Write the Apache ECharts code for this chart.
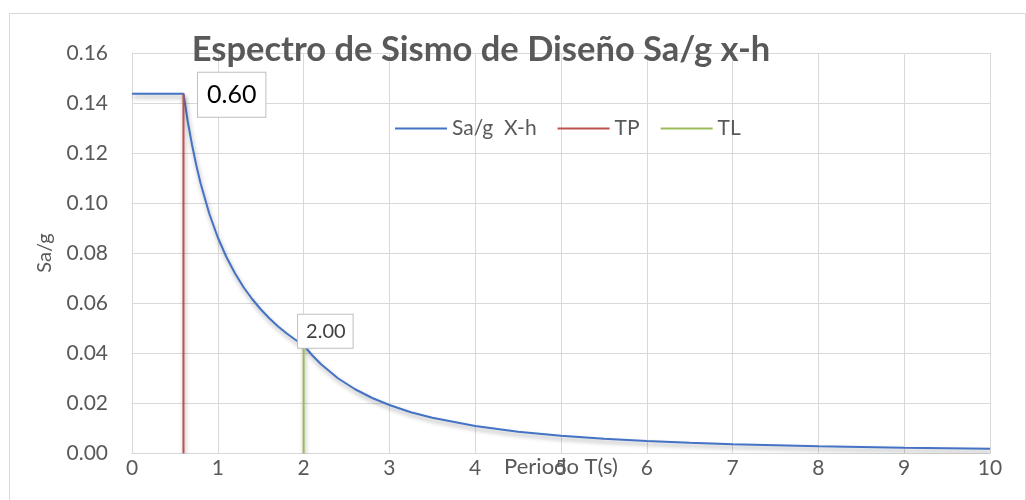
<!DOCTYPE html>
<html>
<head>
<meta charset="utf-8">
<script src="https://cdn.jsdelivr.net/npm/echarts@6/dist/echarts.min.js"></script>
<style>
  html, body { margin: 0; padding: 0; background: #fff; }
  #chart { width: 1026px; height: 500px; }
</style>
</head>
<body>
<div id="chart"></div>
<script>
// Design spectrum Sa/g vs period T (s), direction x-h
const periods = [0, 0.6, 0.65, 0.7, 0.75, 0.8, 0.9, 1.0, 1.1, 1.2, 1.3, 1.4, 1.5, 1.6, 1.7, 1.8, 1.9, 2.0,
                 2.1, 2.2, 2.4, 2.6, 2.8, 3.0, 3.25, 3.5, 4.0, 4.5, 5.0, 5.5, 6.0, 6.5, 7.0, 7.5, 8.0, 8.5, 9.0, 9.5, 10.0];
const saValues = [0.1437, 0.1437, 0.1326, 0.1232, 0.1150, 0.1078, 0.0958, 0.0862, 0.0784, 0.0719, 0.0663,
                  0.0616, 0.0575, 0.0539, 0.0507, 0.0479, 0.0454, 0.0431,
                  0.0391, 0.0356, 0.0299, 0.0255, 0.0220, 0.0192, 0.0163, 0.0141, 0.0108, 0.0085, 0.0069,
                  0.0057, 0.0048, 0.0041, 0.0035, 0.0031, 0.0027, 0.0024, 0.0021, 0.0019, 0.0017];

// Vertical markers at TP and TL
const tpPeriods = [0.6, 0.6];
const tpSa = [0, 0.1437];
const tlPeriods = [2.0, 2.0];
const tlSa = [0, 0.0431];

const xTicks = { min: 0, max: 10, step: 1 };
const yTicks = { min: 0, max: 0.16, step: 0.02 };

const FONT = 'Lato';
const GREY = '#595959';
const GRID = '#d9d9d9';

function pairs(xs, ys) { return xs.map((x, i) => [x, ys[i]]); }

const shadow = { shadowColor: 'rgba(0,0,0,0.35)', shadowBlur: 4, shadowOffsetY: 3, shadowOffsetX: 1 };

const tpData = pairs(tpPeriods, tpSa);
tpData[1] = {
  value: tpData[1],
  label: {
    show: true, position: 'right', distance: 0, offset: [14, 1],
    formatter: p => p.value[0].toFixed(2),
    fontFamily: FONT, fontSize: 25, color: '#000',
    backgroundColor: '#fff', borderColor: '#bfbfbf', borderWidth: 1,
    padding: [10, 9, 9, 9]
  }
};
const tlData = pairs(tlPeriods, tlSa);
tlData[1] = {
  value: tlData[1],
  label: {
    show: true, position: 'right', distance: 0, offset: [-6, -14],
    formatter: p => p.value[0].toFixed(2),
    fontFamily: FONT, fontSize: 20, color: '#404040',
    backgroundColor: '#fff', borderColor: '#bfbfbf', borderWidth: 1,
    padding: [7, 7, 6, 8]
  }
};

const chart = echarts.init(document.getElementById('chart'), null, { renderer: 'canvas' });
chart.setOption({
  animation: false,
  textStyle: { fontFamily: FONT },
  graphic: [{
    type: 'rect', left: 7, top: 11, silent: true, z: -10,
    shape: { width: 1016, height: 500 },
    style: { fill: 'none', stroke: GRID, lineWidth: 1 }
  }],
  title: {
    text: 'Espectro de Sismo de Diseño Sa/g x-h',
    left: 476, top: 27, textAlign: 'center',
    textStyle: { fontFamily: FONT, fontSize: 34.5, fontWeight: 'bold', color: GREY }
  },
  legend: {
    left: 390, top: 113,
    icon: 'rect', itemWidth: 52, itemHeight: 2, itemGap: 21,
    textStyle: { fontFamily: FONT, fontSize: 21, color: GREY },
    data: ['Sa/g  X-h', 'TP', 'TL']
  },
  grid: { left: 132, right: 36, top: 53, bottom: 47 },
  xAxis: {
    type: 'value', min: xTicks.min, max: xTicks.max, interval: xTicks.step,
    name: 'Periodo T(s)', nameLocation: 'middle', nameGap: 3, nameMoveOverlap: false,
    nameTextStyle: { fontFamily: FONT, fontSize: 22, color: GREY },
    axisLine: { lineStyle: { color: GRID } },
    axisTick: { show: false },
    axisLabel: { color: GREY, fontSize: 21, margin: 5, fontFamily: FONT },
    splitLine: { show: true, lineStyle: { color: GRID, width: 1 } }
  },
  yAxis: {
    type: 'value', min: yTicks.min, max: yTicks.max, interval: yTicks.step,
    name: 'Sa/g', nameLocation: 'middle', nameGap: 77, nameMoveOverlap: false,
    nameTextStyle: { fontFamily: FONT, fontSize: 20, color: GREY },
    axisLine: { show: true, lineStyle: { color: GRID } },
    axisTick: { show: false },
    axisLabel: { color: GREY, fontSize: 21, margin: 24, fontFamily: FONT, formatter: v => v.toFixed(2) },
    splitLine: { show: true, lineStyle: { color: GRID, width: 1 } }
  },
  series: [
    {
      name: 'Sa/g  X-h', type: 'line', symbol: 'none', smooth: false, z: 3,
      data: pairs(periods, saValues),
      lineStyle: Object.assign({ color: '#4472C4', width: 2 }, shadow),
      itemStyle: { color: '#4472C4' }
    },
    {
      name: 'TP', type: 'line', symbol: 'circle', symbolSize: 1, showSymbol: true, z: 4,
      data: tpData,
      lineStyle: Object.assign({ color: '#C0504D', width: 2 }, shadow),
      itemStyle: { color: '#C0504D' }
    },
    {
      name: 'TL', type: 'line', symbol: 'circle', symbolSize: 1, showSymbol: true, z: 4,
      data: tlData,
      lineStyle: Object.assign({ color: '#9BBB59', width: 2 }, shadow),
      itemStyle: { color: '#9BBB59' }
    }
  ]
});
</script>
</body>
</html>
